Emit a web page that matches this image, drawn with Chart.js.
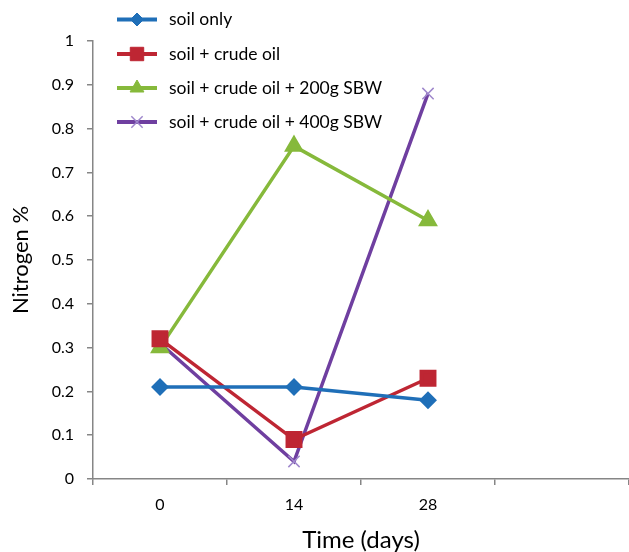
<!DOCTYPE html>
<html>
<head>
<meta charset="utf-8">
<script src="https://cdn.jsdelivr.net/npm/chart.js@4.4.0/dist/chart.umd.min.js"></script>
<style>
  html, body { margin: 0; padding: 0; background: #ffffff; }
  #wrap { width: 629px; height: 552px; }
</style>
</head>
<body>
<div id="wrap"><canvas id="nitrogen-chart" width="629" height="552"></canvas></div>
<script>
const days = ['0', '14', '28', ''];
const yTicks = [0, 0.1, 0.2, 0.3, 0.4, 0.5, 0.6, 0.7, 0.8, 0.9, 1];

const soilOnly = [0.21, 0.21, 0.18];
const soilCrude = [0.32, 0.09, 0.23];
const soilCrude200 = [0.30, 0.76, 0.59];
const soilCrude400 = [0.31, 0.04, 0.88];

const FONT = 'Lato, "Open Sans", sans-serif';

// legend drawn inside the plot area, top left, like the original
const insideLegend = {
  id: 'insideLegend',
  afterDraw(chart) {
    const ctx = chart.ctx;
    const x0 = 117, x1 = 157, textX = 169;
    const rows = [19.5, 54, 88, 122];
    chart.data.datasets.forEach((ds, i) => {
      const y = rows[i];
      ctx.save();
      ctx.strokeStyle = ds.borderColor;
      ctx.lineWidth = 4;
      ctx.beginPath();
      ctx.moveTo(x0, y);
      ctx.lineTo(x1, y);
      ctx.stroke();
      ctx.fillStyle = ds.pointBackgroundColor;
      ctx.strokeStyle = ds.pointBorderColor;
      ctx.lineWidth = ds.pointBorderWidth || 1;
      Chart.helpers.drawPoint(ctx, {
        pointStyle: ds.pointStyle,
        radius: ds.pointRadius,
        borderWidth: ds.pointBorderWidth || 1
      }, (x0 + x1) / 2, y);
      ctx.fillStyle = '#000000';
      ctx.font = '17.5px ' + FONT;
      ctx.textBaseline = 'middle';
      ctx.fillText(ds.label, textX, y);
      ctx.restore();
    });
  }
};

const ctx = document.getElementById('nitrogen-chart').getContext('2d');

new Chart(ctx, {
  type: 'line',
  data: {
    labels: days,
    datasets: [
      {
        label: 'soil only',
        data: soilOnly,
        borderColor: '#1f6fb8',
        backgroundColor: '#1f6fb8',
        pointBackgroundColor: '#1f6fb8',
        pointBorderColor: '#1f6fb8',
        pointStyle: 'rectRot',
        pointRadius: 6.5,
        borderWidth: 3.5,
      },
      {
        label: 'soil + crude oil',
        data: soilCrude,
        borderColor: '#be2633',
        backgroundColor: '#be2633',
        pointBackgroundColor: '#be2633',
        pointBorderColor: '#be2633',
        pointStyle: 'rect',
        pointRadius: 9.5,
        borderWidth: 3.5,
      },
      {
        label: 'soil + crude oil + 200g SBW',
        data: soilCrude200,
        borderColor: '#86b93b',
        backgroundColor: '#86b93b',
        pointBackgroundColor: '#86b93b',
        pointBorderColor: '#86b93b',
        pointStyle: 'triangle',
        pointRadius: 8,
        borderWidth: 3.5,
      },
      {
        label: 'soil + crude oil + 400g SBW',
        data: soilCrude400,
        borderColor: '#6f3fa0',
        backgroundColor: '#9f88cc',
        pointBackgroundColor: '#9f88cc',
        pointBorderColor: '#9f88cc',
        pointStyle: 'crossRot',
        pointRadius: 8,
        pointBorderWidth: 1.5,
        borderWidth: 3.5,
      },
    ],
  },
  options: {
    responsive: false,
    animation: false,
    layout: {
      autoPadding: false,
      padding: { top: 41, right: 0, left: 0, bottom: 0 },
    },
    plugins: {
      legend: { display: false },
      tooltip: { enabled: false },
    },
    elements: { line: { tension: 0 } },
    scales: {
      x: {
        offset: true,
        grid: {
          offset: true,
          drawOnChartArea: false,
          color: '#868686',
          tickLength: 6,
          lineWidth: 1.5,
        },
        border: { color: '#868686', width: 1.5 },
        ticks: {
          color: '#000000',
          font: { size: 16, family: FONT },
          padding: 10,
          maxRotation: 0,
        },
        title: {
          display: true,
          text: 'Time (days)',
          color: '#000000',
          font: { size: 24, family: FONT, lineHeight: 1 },
          padding: { top: 4, bottom: 0 },
        },
        afterFit(scale) {
          scale.height = 73;
          scale.paddingLeft = 0;
          scale.paddingRight = 0;
        },
      },
      y: {
        min: 0,
        max: 1,
        afterBuildTicks(scale) { scale.ticks = yTicks.map(v => ({ value: v })); },
        grid: {
          drawOnChartArea: false,
          color: '#868686',
          tickLength: 6,
          lineWidth: 1.5,
        },
        border: { color: '#868686', width: 1.5 },
        ticks: {
          color: '#000000',
          font: { size: 16, family: FONT },
          padding: 13,
          callback: v => String(Math.round(v * 10) / 10),
        },
        title: {
          display: true,
          text: 'Nitrogen %',
          color: '#000000',
          font: { size: 22, family: FONT },
          padding: { top: 8, bottom: 0 },
        },
        afterFit(scale) { scale.width = 93; },
      },
    },
  },
  plugins: [insideLegend],
});
</script>
</body>
</html>
